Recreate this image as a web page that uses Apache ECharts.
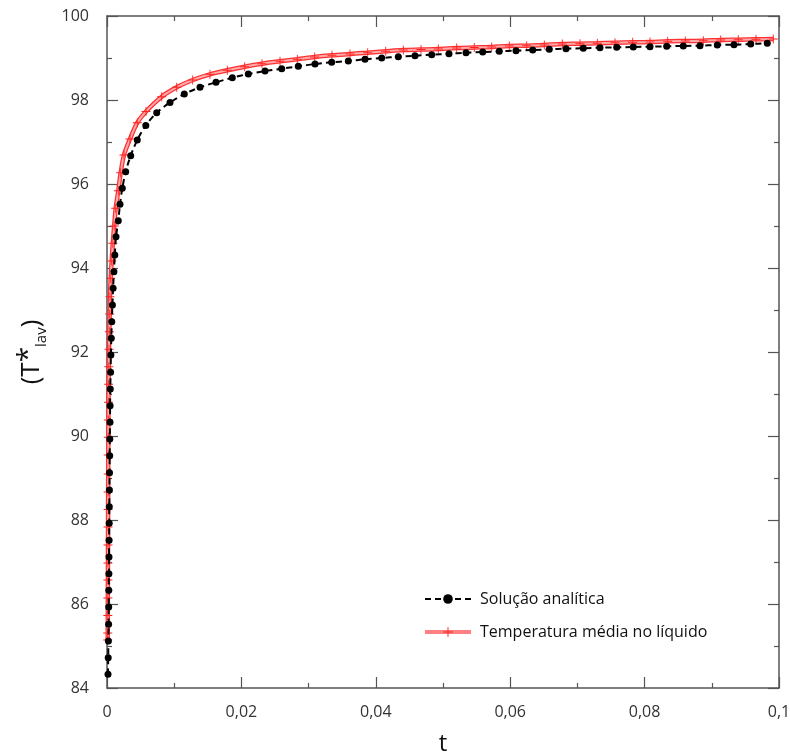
<!DOCTYPE html>
<html>
<head>
<meta charset="utf-8">
<script src="https://cdn.jsdelivr.net/npm/echarts@6/dist/echarts.min.js"></script>
<style>html,body{margin:0;padding:0;background:#fff}#c{width:790px;height:756px}</style>
</head>
<body>
<div id="c"></div>
<script>
// Series names
const seriesNames = ['Solução analítica', 'Temperatura média no líquido'];
// Solução analítica (markers)
const tAnalitica = [0.000149,0.000179,0.000208,0.000238,0.000253,0.000268,0.000283,0.000298,0.000312,0.000327,0.000342,0.000357,0.000372,0.000402,0.000417,0.000446,0.000461,0.000491,0.000536,0.000580,0.000640,0.000714,0.000804,0.000908,0.001027,0.001161,0.001339,0.001682,0.001935,0.002277,0.002783,0.003527,0.004509,0.005774,0.007396,0.009375,0.011503,0.013839,0.016220,0.018646,0.021027,0.023512,0.025997,0.028467,0.030952,0.033438,0.035908,0.038393,0.040878,0.043348,0.045833,0.048318,0.050893,0.053423,0.055908,0.058378,0.060863,0.063348,0.065818,0.068304,0.070878,0.073363,0.075848,0.078318,0.080804,0.083289,0.085759,0.088244,0.090818,0.093304,0.095789,0.098259];
const TAnalitica = [84.326,84.721,85.119,85.517,85.929,86.326,86.721,87.119,87.517,87.921,88.317,88.714,89.126,89.531,89.929,90.326,90.721,91.119,91.517,91.929,92.326,92.721,93.119,93.517,93.912,94.310,94.745,95.126,95.517,95.898,96.293,96.674,97.048,97.393,97.698,97.940,98.143,98.302,98.421,98.531,98.619,98.690,98.745,98.802,98.857,98.898,98.929,98.969,99.000,99.031,99.055,99.079,99.102,99.126,99.143,99.160,99.174,99.190,99.207,99.221,99.231,99.245,99.255,99.262,99.269,99.279,99.286,99.293,99.310,99.317,99.333,99.350];
// Temperatura média no líquido
const tMedia = [0.000104,0.000112,0.000119,0.000126,0.000134,0.000141,0.000149,0.000156,0.000164,0.000171,0.000179,0.000186,0.000193,0.000208,0.000223,0.000238,0.000268,0.000298,0.000342,0.000402,0.000446,0.000551,0.000699,0.000863,0.001071,0.001295,0.001682,0.002039,0.002530,0.003423,0.004509,0.005804,0.008140,0.010372,0.012753,0.015327,0.017902,0.020491,0.023065,0.025744,0.028318,0.030908,0.033482,0.036161,0.038795,0.041473,0.044092,0.046726,0.049301,0.052039,0.054658,0.057247,0.059866,0.062455,0.065074,0.067753,0.070387,0.072961,0.075595,0.078229,0.080804,0.083438,0.086057,0.088735,0.091324,0.093943,0.096577,0.099152];
const TMedia = [85.143,85.310,85.726,86.143,86.571,86.976,87.405,87.833,88.250,88.667,89.095,89.548,89.969,90.381,90.802,91.231,91.650,92.064,92.483,92.905,93.317,93.755,94.167,94.588,95.000,95.421,95.840,96.269,96.690,97.071,97.460,97.726,98.079,98.302,98.476,98.612,98.707,98.793,98.864,98.921,98.969,99.024,99.064,99.095,99.126,99.160,99.190,99.202,99.214,99.238,99.250,99.262,99.286,99.293,99.310,99.333,99.340,99.350,99.364,99.374,99.381,99.398,99.405,99.412,99.429,99.436,99.445,99.452];
// Axis ranges / ticks
const xMin = 0, xMax = 0.1, xStep = 0.02;
const yMin = 84, yMax = 100, yStep = 2;
const xTitle = 't';

function pairs(a, b) { const n = Math.min(a.length, b.length); const r = []; for (let i = 0; i < n; i++) r.push([a[i], b[i]]); return r; }
const analitica = pairs(tAnalitica, TAnalitica);
const media = pairs(tMedia, TMedia);

const FONT = '"Open Sans", "Noto Sans", sans-serif';
const AX = '#555';
const plus = 'path://M-0.5,-5 L0.5,-5 L0.5,-0.5 L5,-0.5 L5,0.5 L0.5,0.5 L0.5,5 L-0.5,5 L-0.5,0.5 L-5,0.5 L-5,-0.5 L-0.5,-0.5 Z';

function axisBase(extra) {
  return Object.assign({
    axisLine: { show: true, onZero: false, lineStyle: { color: AX, width: 1.5 } },
    axisTick: { show: true, inside: true, length: 11, lineStyle: { color: AX, width: 1.2 } },
    minorTick: { show: true, splitNumber: 2, length: 5, lineStyle: { color: AX, width: 1.2 } },
    splitLine: { show: false }
  }, extra);
}

const chart = echarts.init(document.getElementById('c'), null, { renderer: 'canvas' });
chart.setOption({
  animation: false,
  backgroundColor: '#fff',
  grid: { left: 107, top: 16, width: 672, height: 672, containLabel: false, outerBoundsMode: 'none' },
  legend: {
    orient: 'vertical', left: 418, top: 586, itemWidth: 46, itemHeight: 12, itemGap: 17,
    data: [
      { name: seriesNames[0] },
      { name: seriesNames[1], itemStyle: { color: '#ff2020' }, lineStyle: { color: '#ff8080', width: 4 } }
    ],
    textStyle: { fontFamily: FONT, fontSize: 16, color: '#111', padding: [0, 0, 0, 4] }
  },
  xAxis: [
    axisBase({ type: 'value', position: 'bottom', min: xMin, max: xMax, interval: xStep,
      name: xTitle, nameLocation: 'middle', nameGap: 44,
      nameTextStyle: { fontFamily: FONT, fontSize: 24, color: '#111' },
      axisLabel: { fontFamily: FONT, fontSize: 16, color: '#333', margin: 16,
        formatter: v => Number(v.toFixed(4)).toString().replace('.', ',') } }),
    axisBase({ type: 'value', position: 'top', min: xMin, max: xMax, interval: xStep, axisLabel: { show: false } })
  ],
  yAxis: [
    axisBase({ type: 'value', position: 'left', min: yMin, max: yMax, interval: yStep,
      name: '{p|(}{t|T}{sup|*}{sub|lav}{p|)}', nameLocation: 'middle', nameGap: 58, nameRotate: 90,
      nameTextStyle: { fontFamily: FONT, color: '#111',
        rich: {
          p: { fontFamily: FONT, fontSize: 26, color: '#111' },
          t: { fontFamily: FONT, fontSize: 26, color: '#111' },
          sup: { fontFamily: FONT, fontSize: 28, color: '#111', verticalAlign: 'top', padding: [0, 0, 6, 0] },
          sub: { fontFamily: FONT, fontSize: 15, color: '#111', verticalAlign: 'bottom', padding: [10, 0, 0, 0] }
        } },
      axisLabel: { fontFamily: FONT, fontSize: 16, color: '#333', margin: 18 } }),
    axisBase({ type: 'value', position: 'right', min: yMin, max: yMax, interval: yStep, axisLabel: { show: false } })
  ],
  series: [
    { name: 'band', type: 'line', data: media, showSymbol: false, symbol: 'none', smooth: 0.3,
      lineStyle: { color: '#ff3030', width: 4.5 }, silent: true, z: 2 },
    { name: seriesNames[1], type: 'line', data: media, smooth: 0.3,
      symbol: plus, symbolSize: 9, showAllSymbol: true,
      itemStyle: { color: '#ff2020' },
      lineStyle: { color: '#ffaaaa', width: 2 }, z: 3 },
    { name: seriesNames[0], type: 'line', data: analitica, smooth: 0.3,
      symbol: 'circle', symbolSize: 7, showAllSymbol: true,
      itemStyle: { color: '#000' },
      lineStyle: { color: '#000', width: 2, type: [6, 4] }, z: 4 }
  ]
});
</script>
</body>
</html>
